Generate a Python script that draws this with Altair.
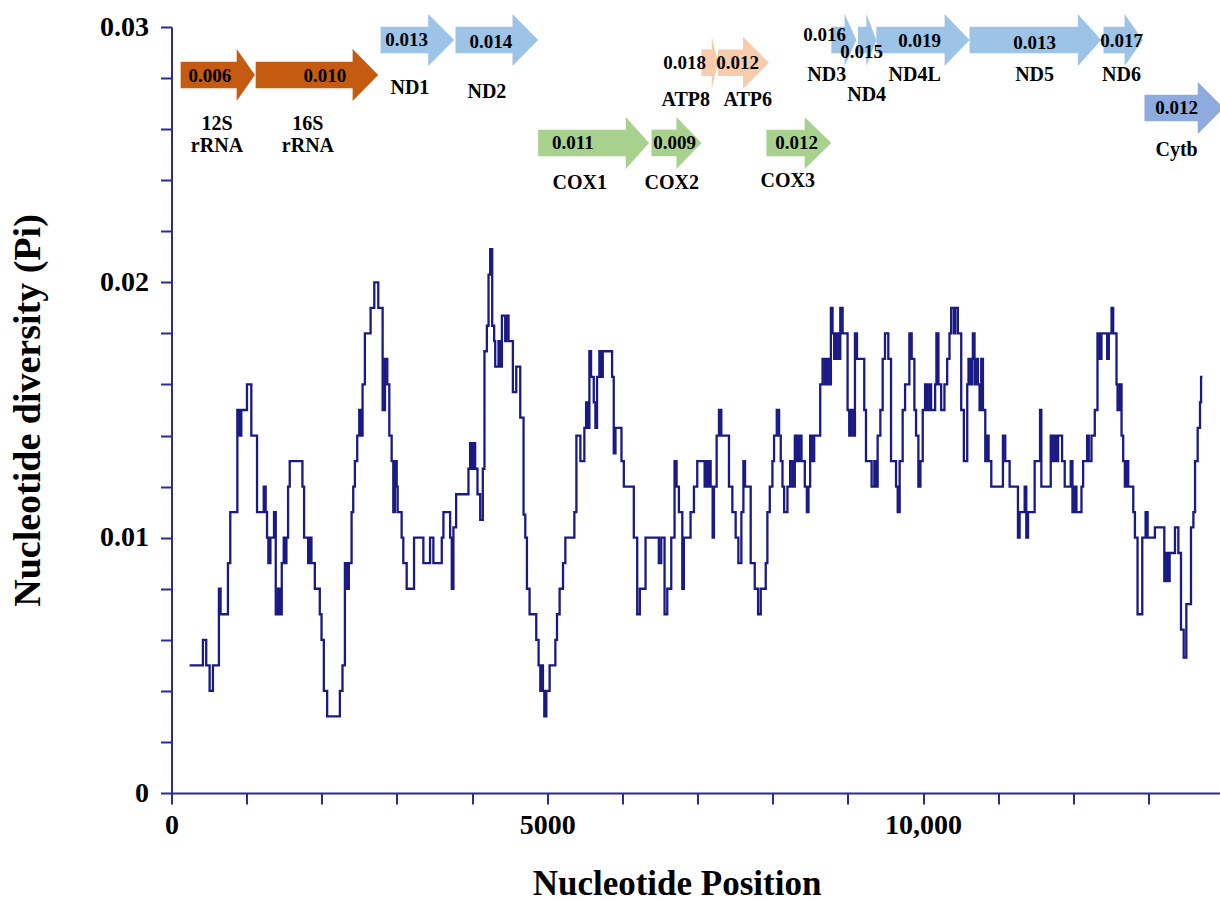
import altair as alt
import pandas as pd

# ---------------- sliding-window nucleotide diversity (step values) ----------------
positions = [
    240, 418, 462, 507, 551, 631, 653, 751, 782, 876, 907, 929, 1004, 1062, 1138,
    1227, 1253, 1271, 1289, 1316, 1364, 1387, 1418, 1440, 1467, 1493, 1511, 1529,
    1551, 1573, 1742, 1764, 1818, 1840, 1862, 1907, 1973, 1996, 2027, 2071, 2240,
    2275, 2307, 2338, 2360, 2396, 2418, 2440, 2471, 2498, 2520, 2542, 2573, 2649,
    2698, 2751, 2809, 2840, 2871, 2898, 2929, 2951, 2973, 2996, 3009, 3062, 3084,
    3129, 3227, 3307, 3351, 3440, 3484, 3596, 3618, 3707, 3729, 3751, 3787, 3951,
    3973, 3996, 4018, 4040, 4071, 4107, 4142, 4164, 4196, 4218, 4240, 4267, 4293,
    4307, 4351, 4373, 4396, 4440, 4453, 4484, 4542, 4587, 4640, 4684, 4707, 4729,
    4764, 4853, 4884, 4907, 4929, 4942, 4960, 4987, 5031, 5107, 5129, 5164, 5209,
    5240, 5360, 5387, 5440, 5493, 5516, 5542, 5560, 5582, 5618, 5640, 5662, 5693,
    5716, 5738, 5862, 5884, 5907, 5987, 6018, 6151, 6196, 6231, 6307, 6484, 6516,
    6560, 6596, 6649, 6693, 6720, 6751, 6796, 6817, 6906, 6951, 6995, 7093, 7111,
    7129, 7151, 7173, 7200, 7217, 7253, 7284, 7315, 7417, 7462, 7506, 7542, 7582,
    7609, 7631, 7706, 7760, 7804, 7840, 7906, 7928, 7960, 7995, 8017, 8053, 8084,
    8106, 8129, 8151, 8195, 8231, 8262, 8293, 8320, 8351, 8382, 8426, 8453, 8475,
    8497, 8520, 8551, 8631, 8662, 8693, 8720, 8751, 8773, 8795, 8817, 8840, 8871,
    8898, 8929, 8995, 9017, 9040, 9071, 9093, 9120, 9217, 9240, 9315, 9351, 9373,
    9395, 9431, 9462, 9493, 9537, 9573, 9640, 9662, 9688, 9728, 9760, 9817, 9848,
    9884, 9906, 9937, 9964, 9995, 10026, 10053, 10084, 10106, 10160, 10177, 10204,
    10240, 10284, 10320, 10351, 10373, 10409, 10427, 10462, 10507, 10542, 10587,
    10604, 10622, 10649, 10662, 10684, 10707, 10729, 10751, 10773, 10796, 10827,
    10844, 10871, 10907, 11062, 11093, 11151, 11262, 11284, 11351, 11373, 11396,
    11484, 11556, 11573, 11698, 11720, 11751, 11773, 11796, 11849, 11884, 11964,
    11987, 12018, 12040, 12107, 12129, 12182, 12204, 12240, 12284, 12320, 12351,
    12373, 12449, 12471, 12507, 12529, 12573, 12587, 12618, 12640, 12662, 12684,
    12707, 12729, 12796, 12818, 12853, 12916, 12960, 12987, 13084, 13209, 13227,
    13253, 13280, 13351, 13396, 13431, 13467, 13502, 13564, 13596, 13618, 13653,
    13684, 13698, 13716,
]
pi_values = [
    0.0050, 0.0060, 0.0050, 0.0040, 0.0050, 0.0080, 0.0070, 0.0090, 0.0110, 0.0150,
    0.0140, 0.0150, 0.0160, 0.0140, 0.0110, 0.0120, 0.0110, 0.0100, 0.0090, 0.0100,
    0.0110, 0.0070, 0.0080, 0.0070, 0.0090, 0.0100, 0.0090, 0.0100, 0.0120, 0.0130,
    0.0120, 0.0100, 0.0090, 0.0100, 0.0090, 0.0080, 0.0070, 0.0060, 0.0040, 0.0030,
    0.0040, 0.0050, 0.0090, 0.0080, 0.0090, 0.0110, 0.0120, 0.0130, 0.0140, 0.0150,
    0.0140, 0.0160, 0.0180, 0.0190, 0.0200, 0.0190, 0.0150, 0.0170, 0.0160, 0.0140,
    0.0130, 0.0110, 0.0130, 0.0120, 0.0110, 0.0100, 0.0090, 0.0080, 0.0100, 0.0100,
    0.0090, 0.0100, 0.0090, 0.0100, 0.0110, 0.0100, 0.0080, 0.0104, 0.0117, 0.0127,
    0.0137, 0.0127, 0.0137, 0.0127, 0.0117, 0.0107, 0.0127, 0.0173, 0.0183, 0.0203,
    0.0213, 0.0183, 0.0177, 0.0167, 0.0177, 0.0167, 0.0187, 0.0177, 0.0187, 0.0177,
    0.0157, 0.0167, 0.0147, 0.0109, 0.0100, 0.0080, 0.0070, 0.0060, 0.0050, 0.0040,
    0.0050, 0.0040, 0.0030, 0.0040, 0.0050, 0.0060, 0.0070, 0.0080, 0.0090, 0.0100,
    0.0110, 0.0140, 0.0130, 0.0143, 0.0153, 0.0143, 0.0173, 0.0163, 0.0153, 0.0143,
    0.0163, 0.0173, 0.0163, 0.0173, 0.0163, 0.0133, 0.0143, 0.0130, 0.0120, 0.0100,
    0.0070, 0.0080, 0.0100, 0.0090, 0.0100, 0.0070, 0.0080, 0.0100, 0.0130, 0.0120,
    0.0110, 0.0080, 0.0100, 0.0110, 0.0120, 0.0130, 0.0120, 0.0130, 0.0120, 0.0130,
    0.0120, 0.0100, 0.0120, 0.0140, 0.0150, 0.0140, 0.0120, 0.0110, 0.0100, 0.0090,
    0.0110, 0.0130, 0.0120, 0.0090, 0.0080, 0.0070, 0.0080, 0.0090, 0.0110, 0.0120,
    0.0130, 0.0140, 0.0150, 0.0140, 0.0130, 0.0120, 0.0110, 0.0120, 0.0130, 0.0120,
    0.0140, 0.0130, 0.0140, 0.0130, 0.0120, 0.0110, 0.0120, 0.0140, 0.0130, 0.0140,
    0.0160, 0.0170, 0.0160, 0.0170, 0.0160, 0.0190, 0.0180, 0.0170, 0.0180, 0.0170,
    0.0190, 0.0180, 0.0150, 0.0140, 0.0150, 0.0140, 0.0180, 0.0170, 0.0150, 0.0130,
    0.0120, 0.0130, 0.0120, 0.0140, 0.0150, 0.0170, 0.0180, 0.0170, 0.0130, 0.0120,
    0.0110, 0.0130, 0.0150, 0.0160, 0.0180, 0.0170, 0.0150, 0.0140, 0.0120, 0.0130,
    0.0150, 0.0160, 0.0150, 0.0160, 0.0150, 0.0160, 0.0180, 0.0160, 0.0150, 0.0160,
    0.0170, 0.0180, 0.0190, 0.0180, 0.0190, 0.0180, 0.0150, 0.0130, 0.0160, 0.0170,
    0.0160, 0.0170, 0.0180, 0.0160, 0.0170, 0.0160, 0.0150, 0.0170, 0.0150, 0.0130,
    0.0140, 0.0130, 0.0120, 0.0140, 0.0130, 0.0120, 0.0100, 0.0110, 0.0120, 0.0100,
    0.0110, 0.0130, 0.0150, 0.0120, 0.0140, 0.0130, 0.0140, 0.0130, 0.0140, 0.0130,
    0.0120, 0.0130, 0.0110, 0.0120, 0.0110, 0.0120, 0.0130, 0.0140, 0.0130, 0.0140,
    0.0150, 0.0180, 0.0170, 0.0180, 0.0170, 0.0180, 0.0190, 0.0180, 0.0160, 0.0150,
    0.0160, 0.0140, 0.0130, 0.0120, 0.0130, 0.0120, 0.0110, 0.0100, 0.0070, 0.0100,
    0.0110, 0.0100, 0.0104, 0.0083, 0.0094, 0.0083, 0.0094, 0.0104, 0.0094, 0.0064,
    0.0053, 0.0074, 0.0104, 0.0110, 0.0130, 0.0143, 0.0153, 0.0163, 0.0163,
]

# ---------------- gene map ----------------
genes = ["12S rRNA", "16S rRNA", "ND1", "ND2", "COX1", "COX2", "ATP8", "ATP6",
         "COX3", "ND3", "ND4", "ND4L", "ND5", "ND6", "Cytb"]
gene_names = ["12S\nrRNA", "16S\nrRNA", "ND1", "ND2", "COX1", "COX2", "ATP8", "ATP6",
              "COX3", "ND3", "ND4", "ND4L", "ND5", "ND6", "Cytb"]
gene_group = ["rRNA", "rRNA", "ND", "ND", "COX", "COX", "ATP", "ATP",
              "COX", "ND", "ND", "ND", "ND", "ND", "Cytb"]
gene_start = [122, 1120, 2782, 3779, 4878, 6386, 7051, 7271, 7915, 8779, 9133, 9378, 10618, 12400, 12945]
gene_head = [867, 2410, 3415, 4537, 6044, 6718, 7188, 7604, 8424, 8956, 9245, 10286, 12059, 12680, 13654]
gene_end = [1110, 2750, 3761, 4878, 6354, 7051, 7271, 7949, 8779, 9112, 9378, 10618, 12370, 12923, 14000]
gene_pi = ["0.006", "0.010", "0.013", "0.014", "0.011", "0.009", "0.018", "0.012",
           "0.012", "0.016", "0.015", "0.019", "0.013", "0.017", "0.012"]

# lane (track) centre for each gene group, in Pi units
lane_center = {"ND": 0.02949, "rRNA": 0.02812, "ATP": 0.02860, "COX": 0.02546, "Cytb": 0.02683}
# annotation anchors (data units)
value_x = [512, 2041, 3128, 4249, 5339, 6695, 6828, 7533, 8318, 8690, 9182, 9953, 11483, 12640, 13372]
value_y = [0.02808, 0.02808, 0.02949, 0.02941, 0.02546, 0.02546, 0.02859, 0.02859,
           0.02546, 0.02969, 0.02902, 0.02945, 0.02937, 0.02945, 0.02683]
name_x = [605, 1815, 3172, 4196, 5432, 6656, 6842, 7666, 8198, 8717, 9249, 9887, 11483, 12640, 13372]
name_y = [0.02620, 0.02620, 0.02761, 0.02745, 0.02389, 0.02389, 0.02714, 0.02714,
          0.02397, 0.02812, 0.02734, 0.02812, 0.02812, 0.02812, 0.02518]

group_domain = ["rRNA", "ND", "COX", "ATP", "Cytb"]
group_range = ["#C55A11", "#9DC3E6", "#A9D18E", "#F8CBAD", "#8FAADC"]

BODY_HALF = 0.00052
HEAD_HALF = 0.00102

body_rows, head_rows = [], []
for g, grp, s, h, e in zip(genes, gene_group, gene_start, gene_head, gene_end):
    c = lane_center[grp]
    body_rows.append({"gene": g, "group": grp, "x": s, "x2": h + 10,
                      "y": c - BODY_HALF, "y2": c + BODY_HALF})
    head_rows.append({"gene": g, "group": grp, "x": h, "y": c - HEAD_HALF, "y2": c + HEAD_HALF})
    head_rows.append({"gene": g, "group": grp, "x": e, "y": c, "y2": c})

body_df = pd.DataFrame(body_rows)
head_df = pd.DataFrame(head_rows)
value_df = pd.DataFrame({"x": value_x, "y": value_y, "label": gene_pi})
name_df = pd.DataFrame({"x": name_x, "y": name_y, "label": gene_names})
line_df = pd.DataFrame({"pos": positions, "pi": pi_values})

# ---------------- scales & axes ----------------
NAVY = "#2a2a9c"
FONT = "Liberation Serif"
x_scale = alt.Scale(domain=[0, 13950], nice=False, zero=False)
y_scale = alt.Scale(domain=[0, 0.03], nice=False)
color_scale = alt.Scale(domain=group_domain, range=group_range)

x_axis = alt.Axis(
    values=list(range(0, 14000, 1000)),
    labelExpr="datum.value == 0 ? '0' : datum.value == 5000 ? '5000' : datum.value == 10000 ? '10,000' : ''",
    title="Nucleotide Position", grid=False,
    domainColor=NAVY, domainWidth=2, tickColor=NAVY, tickWidth=2, tickSize=11,
    labelFont=FONT, labelFontWeight="bold", labelFontSize=28, labelColor="black",
    labelPadding=7, labelFlush=False,
    titleFont=FONT, titleFontWeight="bold", titleFontSize=35, titleColor="black",
    titleX=505, titleY=101, titleBaseline="alphabetic",
)
y_axis = alt.Axis(
    values=[round(i * 0.002, 3) for i in range(16)],
    labelExpr="datum.value < 0.0001 ? '0' : (abs(datum.value * 100 - round(datum.value * 100)) < 0.001 ? format(datum.value, '.2f') : '')",
    title="Nucleotide diversity (Pi)", grid=False,
    domainColor=NAVY, domainWidth=2, tickColor=NAVY, tickWidth=2, tickSize=11,
    labelFont=FONT, labelFontWeight="bold", labelFontSize=28, labelColor="black",
    labelPadding=12, labelFlush=False,
    titleFont=FONT, titleFontWeight="bold", titleFontSize=38, titleColor="black",
    titleX=-143, titleBaseline="middle",
)

line = alt.Chart(line_df).mark_line(interpolate="step-after", color="#1a1a85", strokeWidth=2.3).encode(
    x=alt.X("pos:Q", scale=x_scale, axis=x_axis),
    y=alt.Y("pi:Q", scale=y_scale, axis=y_axis),
)

bodies = alt.Chart(body_df).mark_rect(strokeWidth=0).encode(
    x=alt.X("x:Q", scale=x_scale, axis=x_axis), x2="x2:Q",
    y=alt.Y("y:Q", scale=y_scale, axis=y_axis), y2="y2:Q",
    color=alt.Color("group:N", scale=color_scale, legend=None),
)

heads = alt.Chart(head_df).mark_area(interpolate="linear", strokeWidth=0).encode(
    x=alt.X("x:Q", scale=x_scale, axis=x_axis),
    y=alt.Y("y:Q", scale=y_scale, axis=y_axis), y2="y2:Q",
    detail="gene:N",
    color=alt.Color("group:N", scale=color_scale, legend=None),
)

values = alt.Chart(value_df).mark_text(
    font=FONT, fontWeight="bold", fontSize=19, color="black", baseline="middle", align="center"
).encode(
    x=alt.X("x:Q", scale=x_scale, axis=x_axis),
    y=alt.Y("y:Q", scale=y_scale, axis=y_axis),
    text="label:N",
)

names = alt.Chart(name_df).mark_text(
    font=FONT, fontWeight="bold", fontSize=20, color="black", baseline="middle",
    align="center", lineBreak="\n", lineHeight=22
).encode(
    x=alt.X("x:Q", scale=x_scale, axis=x_axis),
    y=alt.Y("y:Q", scale=y_scale, axis=y_axis),
    text="label:N",
)

chart = alt.layer(bodies, heads, values, names, line).properties(
    width=1048.5, height=766,
    padding={"left": 171.5, "top": 27, "right": 0, "bottom": 108},
    autosize=alt.AutoSizeParams(type="none"),
    background="white",
).configure_view(stroke=None)

chart.save("out.html", embed_options={"renderer": "svg", "actions": False})
